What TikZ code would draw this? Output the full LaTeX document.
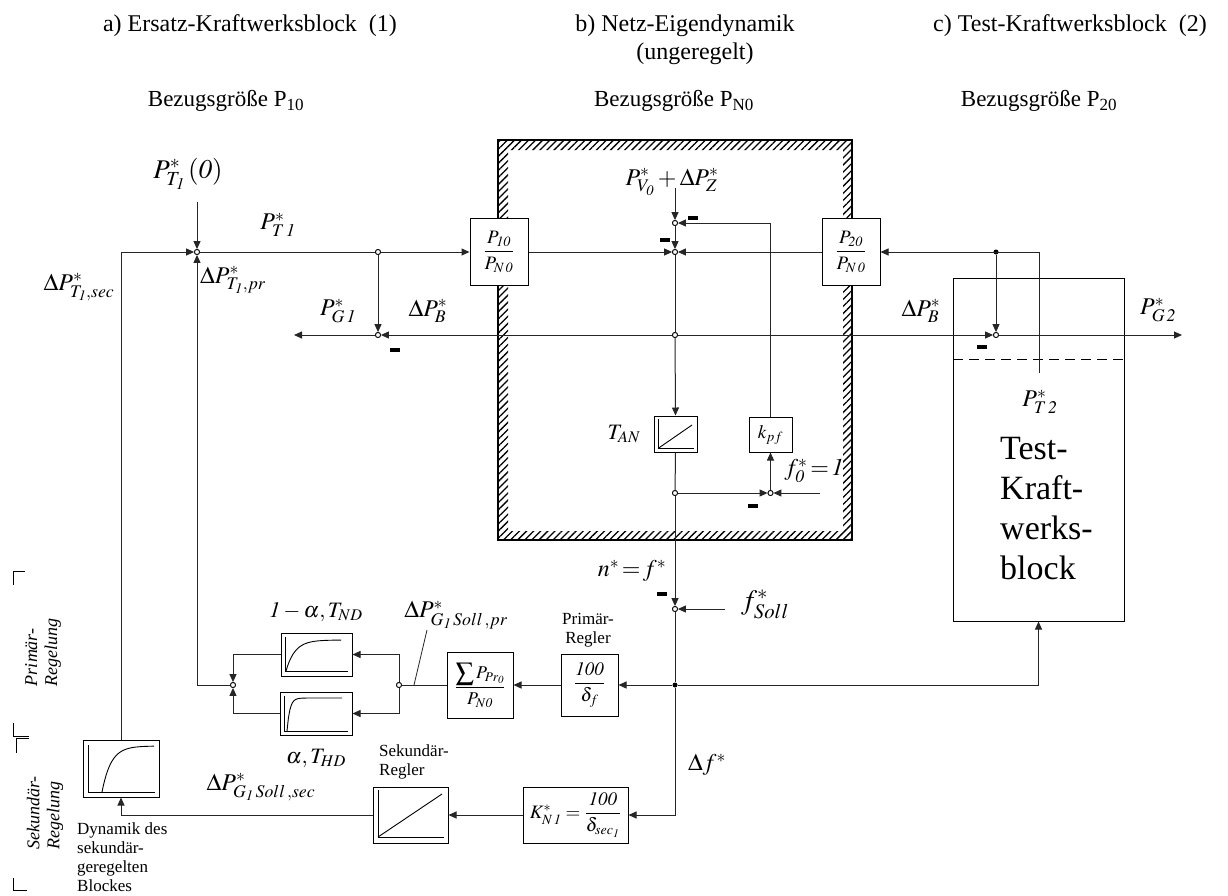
\documentclass[tikz,border=0pt]{standalone}
\usepackage{amsmath}
\usepackage{mathptmx}
\usepackage[no-math]{fontspec}
\setmainfont{Liberation Serif}
\usetikzlibrary{arrows.meta,patterns.meta}
\begin{document}
\begin{tikzpicture}[x=1pt,y=-1pt,
  sig/.style={line width=1pt, draw=black!85},
  arr/.style={sig, -{Triangle[length=8pt,width=7pt]}},
  blk/.style={draw, line width=1pt, fill=white, inner sep=0pt, rectangle},
  sp/.style={circle, draw, line width=0.8pt, fill=white, inner sep=0pt, minimum size=5pt},
  dp/.style={circle, fill, inner sep=0pt, minimum size=5pt},
  mn/.style={rectangle, fill, inner sep=0pt, minimum width=10pt, minimum height=3.5pt},
  lb/.style={font=\fontsize{24}{26}\selectfont, inner sep=0pt},
  bx/.style={font=\fontsize{19}{22}\selectfont},
  tt/.style={font=\rmfamily\fontsize{24}{27}\selectfont, inner sep=0pt, align=center},
  tr/.style={font=\rmfamily\fontsize{23}{26}\selectfont, inner sep=0pt, align=center},
  sm/.style={font=\rmfamily\fontsize{17}{19}\selectfont, inner sep=0pt, align=left},
  inner/.style={line width=0.9pt},
]
\fill[white] (0,0) rectangle (1228,895);
\path[use as bounding box] (0,0) rectangle (1228,895);

% titles
\node[tt] (ta) at (250,26) {a) Ersatz-Kraftwerksblock\ \ (1)};
\node[tt] (tb) at (685,26) {b) Netz-Eigendynamik};
\node[tt] (tb2) at (695,54) {(ungeregelt)};
\node[tt] (tc) at (1070,26) {c) Test-Kraftwerksblock\ \ (2)};
\node[tr] (ra) at (226,101) {Bezugsgröße P\textsubscript{10}};
\node[tr] (rb) at (674,101) {Bezugsgröße P\textsubscript{N0}};
\node[tr] (rc) at (1039,101) {Bezugsgröße P\textsubscript{20}};

% hatched frame of Netz
\fill[pattern={Lines[angle=45,distance=5pt,line width=1.3pt]}, even odd rule]
  (498,140) rectangle (852,540) (508,150) rectangle (843,531);
\draw[line width=1.2pt] (498,140) rectangle (852,540);

% blocks
\node[blk, minimum width=58pt, minimum height=67pt, bx] (bP10) at (499,252) {$\dfrac{P_{\mathit{10}}}{P_{N\,\mathit{0}}}$};
\node[blk, minimum width=58pt, minimum height=67pt, bx] (bP20) at (851,252) {$\dfrac{P_{\mathit{20}}}{P_{N\,\mathit{0}}}$};
\node[blk, minimum width=43pt, minimum height=36pt] (bTAN) at (675.5,434) {};
\node[blk, minimum width=43pt, minimum height=35pt, bx] (bkpf) at (770.5,434.5) {$k_{pf}$};
\node[blk, minimum width=71pt, minimum height=43pt] (bPNT) at (316.5,654.5) {};
\node[blk, minimum width=72pt, minimum height=43pt] (bPHD) at (316,713.5) {};
\node[blk, minimum width=66pt, minimum height=66pt, font=\fontsize{18}{21}\selectfont] (bSum) at (480,685) {$\dfrac{\displaystyle\sum P_{Pr_{\mathit{0}}}}{P_{N\mathit{0}}}$};
\node[blk, minimum width=57pt, minimum height=62pt, bx] (bPR) at (589.5,685) {$\dfrac{\mathit{100}}{\delta_{f}}$};
\node[blk, minimum width=105pt, minimum height=56pt, bx] (bK) at (575.5,815) {$K^{*}_{N\,\mathit{1}}=\dfrac{\mathit{100}}{\delta_{sec_{\mathit{1}}}}$};
\node[blk, minimum width=75pt, minimum height=56pt] (bSek) at (410.5,815) {};
\node[blk, minimum width=76pt, minimum height=57pt] (bDyn) at (121,768.5) {};
\node[draw, line width=1pt, minimum width=171pt, minimum height=343pt, inner sep=0pt] (bTest) at (1038.5,449.5) {};

% inner graphics
\draw[inner] (658,419) -- (658,448.5) -- (694,448.5);
\draw[inner] (658,448.5) -- (692,425);
\draw[inner] (378,790) -- (378,837) -- (444,837);
\draw[inner] (378,837) -- (442,794);
\draw[inner] (285,637) -- (285,671.5) -- (348,671.5);
\draw[inner] plot[domain=0:55, samples=40] ({286+\x}, {671-31*(1-exp(-\x/9))});
\draw[inner] (284,696) -- (284,731) -- (348,731);
\draw[inner] plot[domain=0:55, samples=40] ({287+\x}, {731-33*(1-exp(-\x/2.8))});
\draw[inner] (88,745) -- (88,792) -- (155,792);
\draw[inner] plot[domain=0:52, samples=40] ({102+\x}, {792-46*(1-exp(-\x/9))});
\coordinate (dl) at (953,359);
\coordinate (dr) at (1124,359);
\draw[line width=0.9pt, dash pattern=on 10pt off 6pt] (dl) -- (dr);

% summing points and junctions
\node[sp] (s1) at (197,252) {};
\node[sp] (c1) at (378,252) {};
\node[sp] (s2) at (378,335) {};
\node[sp] (s3) at (675,223) {};
\node[sp] (s4) at (675,252) {};
\node[sp] (c2) at (675,335) {};
\node[sp] (s5) at (996,335) {};
\node[dp] (d1) at (996,252) {};
\node[sp] (c3) at (675,493) {};
\node[sp] (s6) at (770.5,493) {};
\node[sp] (s7) at (675,609) {};
\node[dp] (d2) at (675,685) {};
\node[sp] (c4) at (399,685) {};
\node[sp] (s8) at (233,685) {};

% free ends
\coordinate (iPT) at (197,202);
\coordinate (iPV) at (675,188);
\coordinate (if0) at (820,493);
\coordinate (iFs) at (725,609);
\coordinate (oG1) at (294,335);
\coordinate (oG2) at (1182,335);
\coordinate (src2) at (1039,373);
\coordinate (j8) at (197,685);
\coordinate (ldA) at (427,630);
\coordinate (ldB) at (414,685);

% connectors
\draw[arr] (iPT) -- (s1);
\draw[arr] (bDyn.north) |- (s1);
\draw[arr] (s8) -- (j8) -- (s1);
\draw[arr] (s1) -- (bP10.west);
\draw[arr] (c1) -- (s2);
\draw[arr] (s2) -- (oG1);
\draw[arr] (c2) -- (s2);
\draw[arr] (c2) -- (s5);
\draw[arr] (s5) -- (oG2);
\draw[arr] (bP10.east) -- (s4);
\draw[arr] (bP20.west) -- (s4);
\draw[arr] (iPV) -- (s3);
\draw[arr] (s3) -- (s4);
\draw[sig] (s4) -- (c2);
\draw[arr] (c2) -- (bTAN.north);
\draw[sig] (bTAN.south) -- (c3);
\draw[arr] (c3) -- (s7);
\draw[arr] (c3) -- (s6);
\draw[arr] (if0) -- (s6);
\draw[arr] (s6) -- (bkpf.south);
\draw[arr] (bkpf.north) |- (s3);
\draw[arr] (src2) |- (bP20.east);
\draw[arr] (d1) -- (s5);
\draw[arr] (iFs) -- (s7);
\draw[sig] (s7) -- (d2);
\draw[arr] (d2) |- (bK.east);
\draw[arr] (d2) -- (bPR.east);
\draw[arr] (d2) -| (bTest.south);
\draw[arr] (bPR.west) -- (bSum.east);
\draw[sig] (bSum.west) -- (c4);
\draw[arr] (c4) |- (bPNT.east);
\draw[arr] (c4) |- (bPHD.east);
\draw[arr] (bPNT.west) -| (s8);
\draw[arr] (bPHD.west) -| (s8);
\draw[arr] (bK.west) -- (bSek.east);
\draw[arr] (bSek.west) -| (bDyn.south);
\draw[sig, line width=0.8pt] (ldA) -- (ldB);
% redraw circles on top
\foreach \n in {s1,c1,s2,s3,s4,c2,s5,c3,s6,s7,c4,s8} {\node[sp] at (\n) {};}

% minus signs
\node[mn] (m1) at (395,350) {};
\node[mn] (m2) at (665,240) {};
\node[mn] (m3) at (693,218) {};
\node[mn] (m4) at (753,506) {};
\node[mn] (m5) at (662,594) {};
\node[mn] (m6) at (982,347) {};

% labels
\node[lb, font=\fontsize{27}{29}\selectfont] (lPT10) at (188,174) {$P^{*}_{T_{\mathit{1}}}\,(\mathit{0})$};
\node[lb] (lPT1) at (278,225) {$P^{*}_{T\,\mathit{1}}$};
\node[lb] (lPTs) at (79,287) {$\Delta P^{*}_{T_{\mathit{1}},sec}$};
\node[lb] (lPTp) at (233,280) {$\Delta P^{*}_{T_{\mathit{1}},pr}$};
\node[lb] (lPG1) at (338,311) {$P^{*}_{G\,\mathit{1}}$};
\node[lb] (lPBl) at (428,311) {$\Delta P^{*}_{B}$};
\node[lb] (lPV) at (672,182) {$P^{*}_{V_{\mathit{0}}}+\Delta P^{*}_{Z}$};
\node[lb] (lPBr) at (921,311) {$\Delta P^{*}_{B}$};
\node[lb] (lPG2) at (1158,310) {$P^{*}_{G\,\mathit{2}}$};
\node[lb] (lPT2) at (1040,402) {$P^{*}_{T\,\mathit{2}}$};
\node[inner sep=0pt, anchor=west, align=left, font=\rmfamily\fontsize{34}{40}\selectfont] (tTest) at (1000,509) {Test-\\Kraft-\\werks-\\block};
\node[lb, font=\fontsize{22}{24}\selectfont] (lTAN) at (624,434) {$T_{AN}$};
\node[lb] (lf0) at (814,471) {$f^{*}_{\mathit{0}}\!=\!\mathit{1}$};
\node[lb] (lnf) at (632,571) {$n^{*}\!=\!f^{*}$};
\node[lb, font=\fontsize{28}{30}\selectfont] (lfs) at (765,604) {$f^{*}_{Soll}$};
\node[lb] (lPGp) at (456,615) {$\Delta P^{*}_{G_{\mathit{1}}\,Soll\,,pr}$};
\node[lb] (lPGs) at (261,787) {$\Delta P^{*}_{G_{\mathit{1}}\,Soll\,,sec}$};
\node[lb, font=\fontsize{22}{24}\selectfont] (lNd) at (316,612) {$\mathit{1}-\alpha,T_{ND}$};
\node[lb, font=\fontsize{22}{24}\selectfont] (lHd) at (316,758) {$\alpha,T_{HD}$};
\node[lb] (ldf) at (707,765) {$\Delta f^{*}$};
\node[sm, align=center] (lPRg) at (588,630) {Primär-\\Regler};
\node[sm, anchor=west] (lSek) at (379,762) {Sekundär-\\Regler};
\node[sm, anchor=west] (lDyn) at (77,857) {Dynamik des\\sekundär-\\geregelten\\Blockes};
\node[sm, rotate=90, font=\itshape\fontsize{18}{20}\selectfont] (lPrim) at (43,652) {Primär-\\Regelung};
\node[sm, rotate=90, font=\itshape\fontsize{18}{20}\selectfont] (lSekR) at (45,813) {Sekundär-\\Regelung};

% brackets
\coordinate (k1a) at (13,585); \coordinate (k1b) at (13,571); \coordinate (k1c) at (25,571);
\draw[line width=0.8pt] (k1a) -- (k1b) -- (k1c);
\coordinate (k2a) at (13,723); \coordinate (k2b) at (13,736); \coordinate (k2c) at (29,736);
\draw[line width=0.8pt] (k2a) -- (k2b) -- (k2c);
\coordinate (k3a) at (16,753); \coordinate (k3b) at (16,738); \coordinate (k3c) at (29,738);
\draw[line width=0.8pt] (k3a) -- (k3b) -- (k3c);
\coordinate (k4a) at (13,878); \coordinate (k4b) at (13,890); \coordinate (k4c) at (27,890);
\draw[line width=0.8pt] (k4a) -- (k4b) -- (k4c);
\end{tikzpicture}
\end{document}
